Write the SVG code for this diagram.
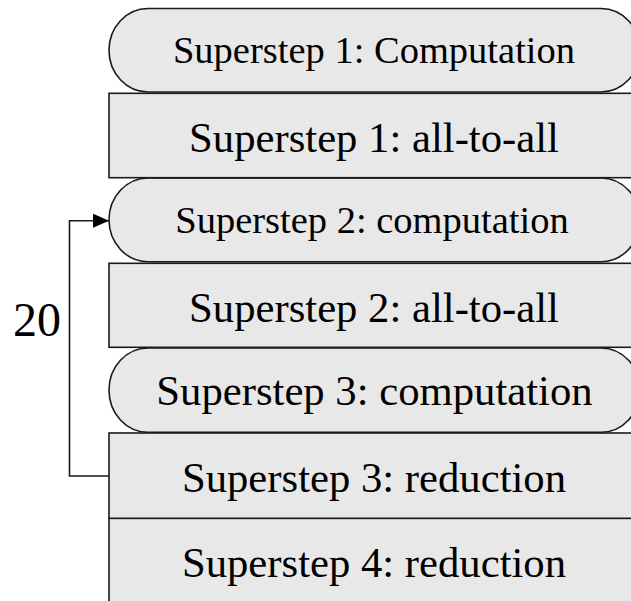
<svg xmlns="http://www.w3.org/2000/svg" width="631" height="601" viewBox="0 0 631 601">
<style>
.box{fill:#e8e8e8;stroke:#1a1a1a;stroke-width:1.6}
.lbl{font-family:"Liberation Serif","Times New Roman",serif;fill:#000;text-anchor:middle}
.s{font-size:38.5px}
.l{font-size:42.7px}
.conn{fill:none;stroke:#1a1a1a;stroke-width:1.6}
</style>
<defs>
<marker id="ah" markerUnits="userSpaceOnUse" markerWidth="17" markerHeight="14" refX="16" refY="7" orient="auto">
<path d="M0,0 L16,7 L0,14 Z" fill="#000"/>
</marker>
</defs>
<rect width="631" height="601" fill="#fff"/>
<g id="n7"><rect class="box" x="109" y="518.3" width="531" height="86"/><text class="lbl l" x="374" y="576.7">Superstep 4: reduction</text></g>
<g id="n6"><rect class="box" x="109" y="433" width="531" height="85.3"/><text class="lbl l" x="374" y="491.7">Superstep 3: reduction</text></g>
<g id="n5"><rect class="box" x="109" y="348" width="531" height="84.3" rx="39" ry="42"/><text class="lbl l" x="374.5" y="405">Superstep 3: computation</text></g>
<g id="n4"><rect class="box" x="109" y="263.3" width="531" height="84" /><text class="lbl l" x="374" y="321.7">Superstep 2: all-to-all</text></g>
<g id="n3"><rect class="box" x="109" y="178" width="531" height="83.7" rx="39" ry="42"/><text class="lbl s" x="372" y="233.3">Superstep 2: computation</text></g>
<g id="n2"><rect class="box" x="109" y="93.3" width="531" height="84.4"/><text class="lbl l" x="374" y="151.7">Superstep 1: all-to-all</text></g>
<g id="n1"><rect class="box" x="109" y="8.5" width="531" height="83.5" rx="39" ry="42"/><text class="lbl s" x="374" y="63.3">Superstep 1: Computation</text></g>
<g id="connectors">
<path class="conn" d="M109,476 H69.5 V220.7 H109" marker-end="url(#ah)"/>
<text x="13" y="335.7" style="font-family:'Liberation Serif','Times New Roman',serif;font-size:48px">20</text>
</g>
</svg>
